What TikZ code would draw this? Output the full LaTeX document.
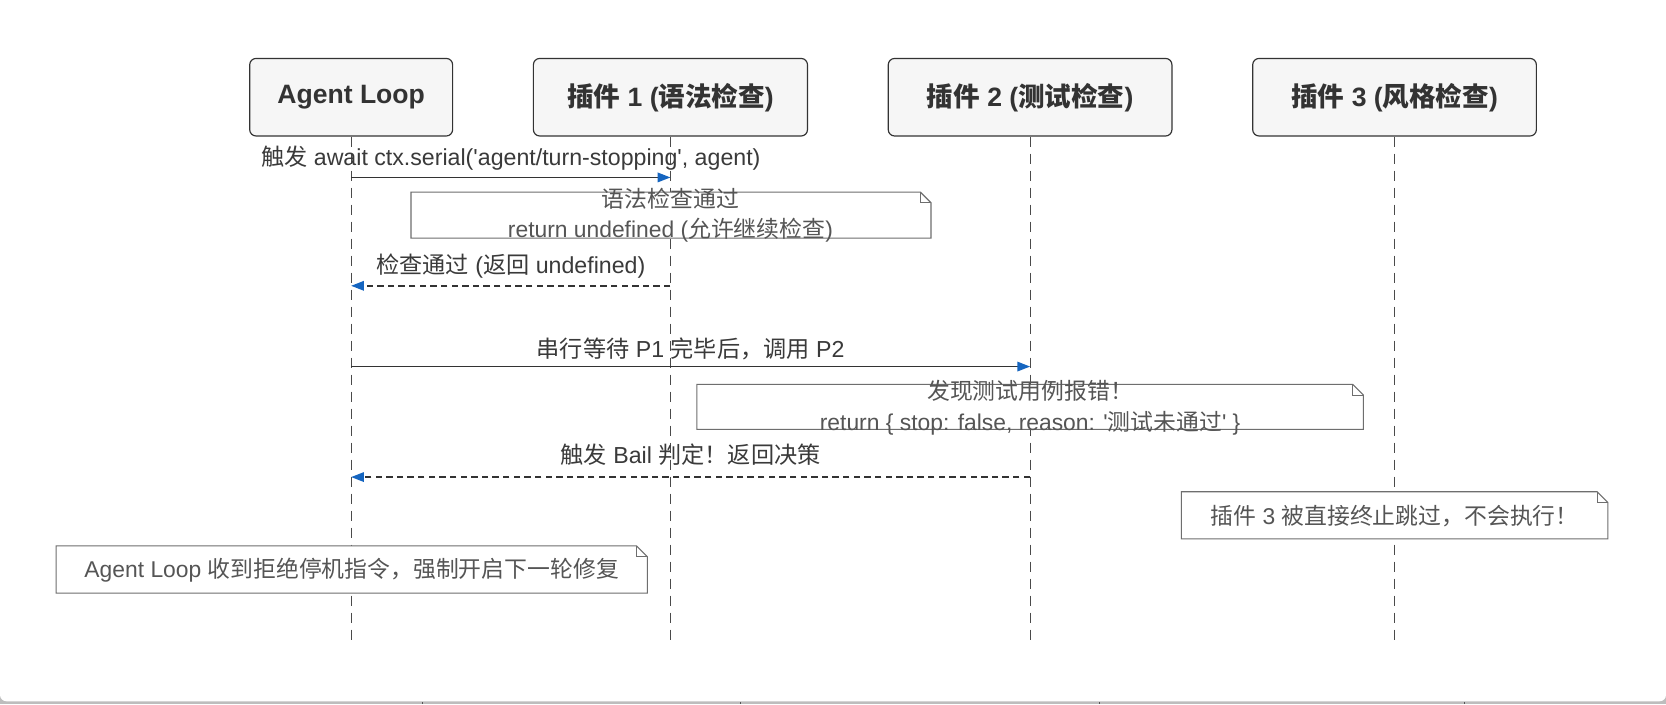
\documentclass[tikz,border=0pt]{standalone}
\usepackage{fontspec}
\newfontfamily\latf{Liberation Sans}
\newfontfamily\zhf{Noto Sans CJK SC}
\newcommand\zh[1]{{\zhf #1}}
\usetikzlibrary{arrows.meta,calc}
\definecolor{boxfill}{HTML}{F6F6F6}
\definecolor{boxline}{HTML}{333333}
\definecolor{titletxt}{HTML}{333333}
\definecolor{labeltxt}{HTML}{3A3A3A}
\definecolor{notetxt}{HTML}{555555}
\definecolor{notecol}{HTML}{6E6E6E}
\definecolor{lifecol}{HTML}{4A4A4A}
\definecolor{msgcol}{HTML}{333333}
\definecolor{arrowblue}{HTML}{1565C0}
\definecolor{bandgray}{HTML}{BDBDBD}
\definecolor{tickgray}{HTML}{555555}
\newcommand\notefold[1]{%
  \draw[noteborder] (#1.north west) -- ($(#1.north east)+(-10,0)$) -- ($(#1.north east)+(0,10)$) -- (#1.south east) -- (#1.south west) -- cycle;
  \draw[noteborder,fill=none] ($(#1.north east)+(-10,0)$) -- ($(#1.north east)+(-10,10)$) -- ($(#1.north east)+(0,10)$);}
\begin{document}
\begin{tikzpicture}[x=1pt,y=-1pt,
  actor/.style={draw=boxline, fill=boxfill, line width=1.1pt, rounded corners=6pt,
    minimum height=73pt, inner sep=0pt, text=titletxt,
    font=\latf\fontsize{25}{30}\selectfont\bfseries},
  lifeline/.style={draw=lifecol, line width=0.9pt, dash pattern=on 10pt off 6pt},
  msg/.style={draw=msgcol, line width=1.3pt, -{Triangle[length=12pt,width=9pt,color=arrowblue]}},
  reply/.style={msg, dash pattern=on 6pt off 4pt},
  msglabel/.style={font=\latf\fontsize{21.8}{26}\selectfont, text=labeltxt, inner sep=0pt},
  notebox/.style={inner sep=0pt, draw=none},
  noteborder/.style={draw=notecol, line width=1pt, fill=white},
  notetext/.style={font=\latf\fontsize{21.5}{29}\selectfont, text=notetxt, align=center, inner sep=0pt},
]
\useasboundingbox (0,0) rectangle (1568,663);
% window background
\fill[bandgray] (0,0) rectangle (1568,663);
\fill[white, rounded corners=6pt] (0,-20) rectangle (1568,660);
\foreach \tx in {398,697,1035,1378} \draw[tickgray, line width=1pt] (\tx,660.5) -- (\tx,663);

% participants
\node[actor, minimum width=191pt] (A)  at (330.5,91.5) {Agent Loop};
\node[actor, minimum width=258pt] (P1) at (631,91.5)   {\zh{插件} 1 (\zh{语法检查})};
\node[actor, minimum width=267pt] (P2) at (969.5,91.5) {\zh{插件} 2 (\zh{测试检查})};
\node[actor, minimum width=267pt] (P3) at (1312.5,91.5){\zh{插件} 3 (\zh{风格检查})};

% lifelines
\coordinate (Aend)  at (330.5,603);
\coordinate (P1end) at (631,603);
\coordinate (P2end) at (969.5,603);
\coordinate (P3end) at (1312.5,603);
\draw[lifeline] (A.south)  -- (Aend);
\draw[lifeline] (P1.south) -- (P1end);
\draw[lifeline] (P2.south) -- (P2end);
\draw[lifeline] (P3.south) -- (P3end);

% notes
\node[notebox, minimum width=489pt, minimum height=43pt] (N1) at (631.5,202.5) {};
\notefold{N1}
\node[notetext] (N1t) at (631,202.5) {\zh{语法检查通过}\\return undefined (\zh{允许继续检查})};

\node[notebox, minimum width=627pt, minimum height=42pt] (N2) at (969.5,383) {};
\notefold{N2}
\node[notetext] (N2t) at (969.5,383.5) {\zh{发现测试用例报错！}\\return \{ stop: false, reason: '\zh{测试未通过}' \}};

\node[notebox, minimum width=401pt, minimum height=44pt] (N3) at (1312.5,485) {};
\notefold{N3}
\node[notetext] (N3t) at (1312.5,486) {\zh{插件} 3 \zh{被直接终止跳过，不会执行！}};

\node[notebox, minimum width=556pt, minimum height=44pt] (N4) at (331,536) {};
\notefold{N4}
\node[notetext] (N4t) at (331,537) {Agent Loop \zh{收到拒绝停机指令，强制开启下一轮修复}};

% messages
\coordinate (m1s) at (330.5,167); \coordinate (m1e) at (631,167);
\draw[msg] (m1s) -- (m1e);
\node[msglabel] (l1) at ($(m1s)!0.5!(m1e)+(0,-18)$) {\zh{触发} await ctx.serial('agent/turn-stopping', agent)};

\coordinate (m2s) at (631,269); \coordinate (m2e) at (330.5,269);
\draw[reply] (m2s) -- (m2e);
\node[msglabel] (l2) at ($(m2s)!0.5!(m2e)+(0,-19)$) {\zh{检查通过} (\zh{返回} undefined)};

\coordinate (m3s) at (330.5,345); \coordinate (m3e) at (969.5,345);
\draw[msg] (m3s) -- (m3e);
\node[msglabel] (l3) at ($(m3s)!0.5!(m3e)+(0,-17)$) {\zh{串行等待} P1 \zh{完毕后，调用} P2};

\coordinate (m4s) at (969.5,449); \coordinate (m4e) at (330.5,449);
\draw[reply] (m4s) -- (m4e);
\node[msglabel] (l4) at ($(m4s)!0.5!(m4e)+(0,-21)$) {\zh{触发} Bail \zh{判定！返回决策}};
\end{tikzpicture}
\end{document}
